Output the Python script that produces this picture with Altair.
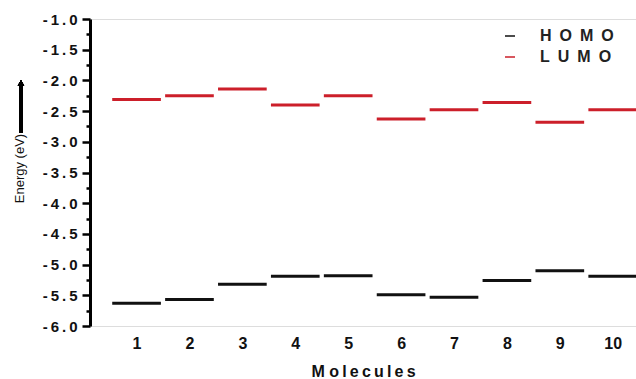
import altair as alt
import pandas as pd

# Frontier orbital energies (eV) for each molecule
molecules = [1, 2, 3, 4, 5, 6, 7, 8, 9, 10]
homo = [-5.63, -5.57, -5.32, -5.19, -5.18, -5.49, -5.53, -5.26, -5.10, -5.19]
lumo = [-2.31, -2.25, -2.14, -2.40, -2.25, -2.63, -2.48, -2.36, -2.68, -2.48]

df = pd.DataFrame(
    {
        "molecule": molecules * 2,
        "energy": homo + lumo,
        "orbital": ["HOMO"] * len(molecules) + ["LUMO"] * len(molecules),
    }
)

FONT = "Arial, Liberation Sans, sans-serif"
TS = "\u2009"  # thin space used to widen the letter spacing
minor = "abs(datum.value * 2 - round(datum.value * 2)) > 0.01"
y_values = [-6 + 0.25 * i for i in range(21)]

x_scale = alt.Scale(domain=[0.12, 10.44], nice=False, zero=False)
y_scale = alt.Scale(domain=[-6, -1], nice=False, zero=False)

levels = (
    alt.Chart(df)
    .transform_calculate(lo="datum.molecule - 0.46", hi="datum.molecule + 0.46")
    .mark_rule(strokeWidth=3, clip=True)
    .encode(
        x=alt.X(
            "lo:Q",
            scale=x_scale,
            axis=alt.Axis(
                values=molecules,
                format="d",
                domain=False,
                ticks=False,
                grid=False,
                labelFont=FONT,
                labelFontWeight=700,
                labelFontSize=16,
                labelColor="#111",
                labelPadding=9,
                title="M " + TS.join("olecules"),
                titleFont=FONT,
                titleFontWeight=700,
                titleFontSize=16,
                titleColor="#111",
                titlePadding=12,
            ),
        ),
        x2="hi:Q",
        y=alt.Y(
            "energy:Q",
            scale=y_scale,
            axis=alt.Axis(
                values=y_values,
                grid=False,
                domainColor="black",
                domainWidth=3,
                tickColor="black",
                tickWidth=2.5,
                tickSize={"condition": {"test": minor, "value": 4}, "value": 8},
                labelExpr=(
                    f"{minor} ? '' : '-{TS}' + "
                    f"replace(format(abs(datum.value), '.1f'), '.', '{TS}.{TS}')"
                ),
                labelFont=FONT,
                labelFontWeight=700,
                labelFontSize=15,
                labelColor="#111",
                labelPadding=5,
                title="Energy (eV)",
                titleFont=FONT,
                titleFontWeight=400,
                titleFontSize=13,
                titleColor="#111",
                titlePadding=16,
                titleY=149,
            ),
        ),
        color=alt.Color(
            "orbital:N",
            scale=alt.Scale(domain=["HOMO", "LUMO"], range=["#111111", "#cc1f2a"]),
            legend=alt.Legend(
                title=None,
                orient="none",
                legendX=412,
                legendY=9,
                symbolType="stroke",
                symbolStrokeWidth=2,
                symbolSize=100,
                symbolOpacity=0.75,
                labelExpr="datum.label == 'HOMO' ? 'H\u2002O\u2002M\u2002O' : 'L\u2002U\u2002M\u2002O'",
                labelFont=FONT,
                labelFontSize=16,
                labelFontWeight=700,
                labelColor="#222",
                labelOffset=22,
                rowPadding=5,
            ),
        ),
    )
)

# Upward arrow beside the y-axis title
arrow_shaft = alt.Chart(df).mark_rule(color="black", strokeWidth=2.5).encode(
    x=alt.value(-69), y=alt.value(66), y2=alt.value(114)
)
arrow_head = alt.Chart(df).mark_point(
    shape="triangle-up", filled=True, color="black", size=40, opacity=1
).encode(x=alt.value(-69), y=alt.value(64))

chart = (
    alt.layer(levels, arrow_shaft, arrow_head)
    .properties(
        width=546,
        height=307,
        autosize=alt.AutoSizeParams(type="none"),
        padding={"left": 90, "top": 19, "right": 0, "bottom": 53},
    )
    .configure_view(stroke=None)
    .configure(background="white")
)

chart.save("out.html", embed_options={"renderer": "svg", "actions": False})
